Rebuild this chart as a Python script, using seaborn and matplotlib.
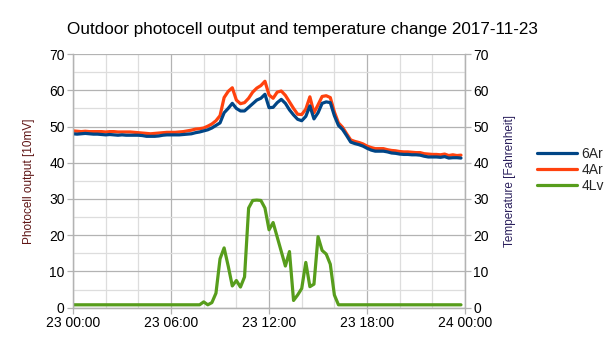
import numpy as np
import pandas as pd
import matplotlib
matplotlib.use("Agg")
import matplotlib.pyplot as plt
import matplotlib.dates as mdates
from matplotlib.lines import Line2D
import seaborn as sns

# 15-minute samples over 2017-11-23
start = "2017-11-23 00:00"
n_samples = 96

# Temperature sensors [Fahrenheit]
temp_6ar = [
    48.0, 47.9, 48.0, 48.1, 48.0, 47.9, 47.9, 47.8,
    47.7, 47.8, 47.7, 47.6, 47.7, 47.6, 47.6, 47.6,
    47.6, 47.5, 47.3, 47.3, 47.3, 47.4, 47.6, 47.7,
    47.7, 47.7, 47.7, 47.8, 47.9, 48.0, 48.3, 48.5,
    48.8, 49.1, 49.6, 50.3, 51.0, 53.8, 55.0, 56.4,
    55.0, 54.3, 54.3, 55.3, 56.3, 57.3, 57.8, 58.9,
    55.2, 55.3, 56.6, 57.5, 56.4, 54.6, 53.2, 52.0,
    51.6, 52.8, 55.7, 52.1, 53.8, 56.4, 56.8, 56.6,
    53.0, 50.3, 49.2, 47.5, 45.7, 45.3, 45.0, 44.6,
    44.0, 43.5, 43.2, 43.2, 43.2, 43.0, 42.7, 42.6,
    42.4, 42.3, 42.3, 42.2, 42.2, 42.1, 41.8, 41.6,
    41.6, 41.6, 41.5, 41.7, 41.3, 41.4, 41.4, 41.3,
]
temp_4ar = [
    48.8, 48.7, 48.6, 48.7, 48.6, 48.6, 48.6, 48.6,
    48.5, 48.6, 48.6, 48.5, 48.5, 48.5, 48.5, 48.4,
    48.3, 48.2, 48.1, 48.0, 48.1, 48.2, 48.3, 48.4,
    48.4, 48.4, 48.5, 48.6, 48.8, 49.0, 49.3, 49.4,
    49.6, 50.1, 50.7, 51.6, 53.0, 58.0, 59.7, 60.7,
    57.3, 56.3, 56.6, 57.8, 59.5, 60.6, 61.3, 62.5,
    58.7, 57.8, 59.5, 59.8, 58.6, 56.8, 55.0, 53.4,
    53.3, 54.8, 58.2, 53.8, 56.0, 58.3, 58.5, 58.0,
    54.0, 51.0, 49.8, 48.0, 46.3, 45.9, 45.6, 45.2,
    44.6, 44.2, 43.9, 43.9, 43.9, 43.6, 43.4, 43.3,
    43.1, 43.0, 43.0, 42.9, 42.8, 42.8, 42.5, 42.4,
    42.3, 42.3, 42.2, 42.4, 42.0, 42.2, 42.0, 42.1,
]
# Photocell output [10mV]
photo_4lv = [
    0.8, 0.8, 0.8, 0.8, 0.8, 0.8, 0.8, 0.8,
    0.8, 0.8, 0.8, 0.8, 0.8, 0.8, 0.8, 0.8,
    0.8, 0.8, 0.8, 0.8, 0.8, 0.8, 0.8, 0.8,
    0.8, 0.8, 0.8, 0.8, 0.8, 0.8, 0.8, 0.8,
    1.6, 0.8, 1.4, 4.0, 13.5, 16.5, 11.5, 6.0,
    7.5, 5.7, 8.5, 27.5, 29.6, 29.7, 29.6, 27.5,
    21.5, 23.5, 19.5, 15.5, 11.5, 15.5, 2.0, 3.5,
    5.3, 12.5, 5.8, 6.5, 19.6, 15.8, 14.8, 12.0,
    3.5, 0.8, 0.8, 0.8, 0.8, 0.8, 0.8, 0.8,
    0.8, 0.8, 0.8, 0.8, 0.8, 0.8, 0.8, 0.8,
    0.8, 0.8, 0.8, 0.8, 0.8, 0.8, 0.8, 0.8,
    0.8, 0.8, 0.8, 0.8, 0.8, 0.8, 0.8, 0.8,
]

series_names = ["6Ar", "4Ar", "4Lv"]
series_colors = {"6Ar": "#004586", "4Ar": "#ff420e", "4Lv": "#579d1c"}
y_ticks = [0, 10, 20, 30, 40, 50, 60, 70]

times = pd.date_range(start, periods=n_samples, freq="15min")
temps = pd.DataFrame({
    "time": np.concatenate([times, times]),
    "value": temp_4ar + temp_6ar,
    "sensor": ["4Ar"] * n_samples + ["6Ar"] * n_samples,
})
photo = pd.DataFrame({"time": times, "value": photo_4lv, "sensor": "4Lv"})

sns.set_theme(style="white")
plt.rcParams["font.family"] = ["Liberation Sans", "DejaVu Sans"]

fig = plt.figure(figsize=(6.05, 3.4), dpi=100)
ax = fig.add_axes([0.1207, 0.095, 0.648, 0.746])
ax2 = ax.twinx()

grid_major = "#b3b3b3"
grid_minor = "#dddddd"
lw = 2.3

sns.lineplot(data=photo, x="time", y="value", hue="sensor", palette=series_colors,
             linewidth=lw, ax=ax, legend=False)
sns.lineplot(data=temps, x="time", y="value", hue="sensor", palette=series_colors,
             linewidth=lw, ax=ax2, legend=False)

t0 = pd.Timestamp("2017-11-23 00:00")
t1 = pd.Timestamp("2017-11-24 00:00")
for a in (ax, ax2):
    a.set_xlim(t0, t1)
    a.set_ylim(0, 70)
    a.set_yticks(y_ticks)
    a.set_xlabel("")
    a.set_ylabel("")
    a.spines["top"].set_visible(False)
    for side in ("left", "right", "bottom"):
        a.spines[side].set_color(grid_major)
        a.spines[side].set_linewidth(0.9)

ax.xaxis.set_major_locator(mdates.HourLocator(byhour=[0, 6, 12, 18]))
ax.xaxis.set_minor_locator(mdates.HourLocator(interval=2))
ax.xaxis.set_major_formatter(mdates.DateFormatter("%d %H:%M"))
ax.set_yticks([5, 15, 25, 35, 45, 55, 65], minor=True)

ax.grid(which="major", color=grid_major, linewidth=0.9)
ax.grid(which="minor", color=grid_minor, linewidth=0.9)
ax.set_axisbelow(True)
ax2.grid(False)

ax.tick_params(axis="both", which="major", direction="out", length=4, width=0.9,
               color=grid_major, labelsize=10, labelcolor="black", pad=2)
ax.tick_params(axis="both", which="minor", length=0)
ax.tick_params(axis="y", left=True)
ax.tick_params(axis="x", bottom=True)
ax2.tick_params(axis="y", which="major", direction="out", length=4, width=0.9,
                color=grid_major, labelsize=10, labelcolor="black", right=True, pad=2)

ax.set_ylabel("Photocell output [10mV]", fontsize=8.5, color="#5e1414", labelpad=10)
ax2.set_ylabel("Temperature [Fahrenheit]", fontsize=8.5, color="#2a1f5c", labelpad=11)

fig.suptitle("Outdoor photocell output and temperature change 2017-11-23",
             fontsize=12.3, x=0.5, y=0.935, color="black")

handles = [Line2D([0], [0], color=series_colors[s], linewidth=lw) for s in series_names]
fig.legend(handles, series_names, loc="upper left", bbox_to_anchor=(0.878, 0.585),
           frameon=False, fontsize=10, handlelength=2.9, handletextpad=0.3,
           labelspacing=0.15, borderaxespad=0)

fig.savefig("out.png", dpi=100, facecolor="white")
